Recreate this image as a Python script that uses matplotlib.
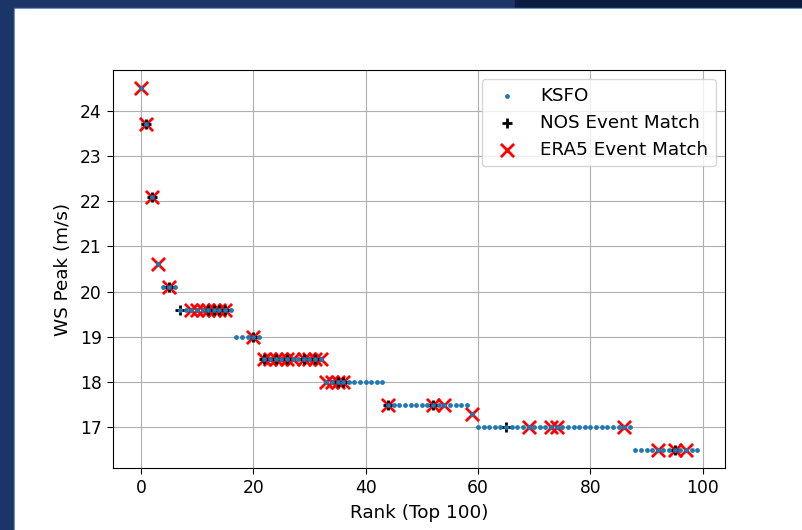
import numpy as np
import matplotlib
matplotlib.use("Agg")
import matplotlib.pyplot as plt
from matplotlib.patches import Rectangle

# KSFO top 100 wind speed peaks (value runs, ranks 0..99)
ws_levels = [24.5, 23.7, 22.1, 20.6, 20.1, 19.6, 19.0, 18.5, 18.0, 17.5, 17.3, 17.0, 16.5]
ws_counts = [1, 1, 1, 1, 3, 10, 5, 11, 11, 15, 1, 28, 12]

# ranks that matched events in the other datasets
nos_ranks = [1, 2, 5, 7, 12, 13, 14, 15, 20, 22, 24, 26, 29, 31, 35, 36, 44, 52, 65, 95]
era5_ranks = [0, 1, 2, 3, 5, 9, 10, 11, 12, 13, 14, 15, 20, 22, 23, 24, 25, 26, 27,
              29, 30, 31, 32, 33, 34, 35, 36, 44, 52, 54, 59, 69, 73, 74, 86, 92, 95, 97]

ws_peak = np.repeat(ws_levels, ws_counts)
rank = np.arange(len(ws_peak))

fig = plt.figure(figsize=(8.02, 5.30), dpi=100, facecolor="#1b3566")
# slide frame around the figure
fig.patches.append(Rectangle((515/802, 1 - 9/530), 1, 1, transform=fig.transFigure,
                             color="#0b1d3f", zorder=-3))
fig.patches.append(Rectangle((14/802, 0), 1, 1 - 8/530, transform=fig.transFigure,
                             color="#4a78c0", zorder=-2))
fig.patches.append(Rectangle((15/802, 0), 1, 1 - 9/530, transform=fig.transFigure,
                             color="white", zorder=-1))

ax = fig.add_axes([113/802, 1 - 468/530, 612/802, 398/530])
ax.scatter(rank, ws_peak, s=6, color="tab:blue", label="KSFO", zorder=5)
ax.scatter(nos_ranks, ws_peak[nos_ranks], marker="+", s=45, color="black",
           linewidths=2, label="NOS Event Match", zorder=4)
ax.scatter(era5_ranks, ws_peak[era5_ranks], marker="x", s=90, color="red",
           linewidths=2, label="ERA5 Event Match", zorder=3)

ax.grid(True, zorder=0)
ax.set_axisbelow(True)
ax.tick_params(labelsize=12.3, length=4.5)
ax.set_xlabel("Rank (Top 100)", fontsize=13.2, labelpad=5)
ax.set_ylabel("WS Peak (m/s)", fontsize=13.2, labelpad=6)
ax.legend(loc="upper right", fontsize=13.2)

fig.savefig("out.png", dpi=100, facecolor=fig.get_facecolor())
